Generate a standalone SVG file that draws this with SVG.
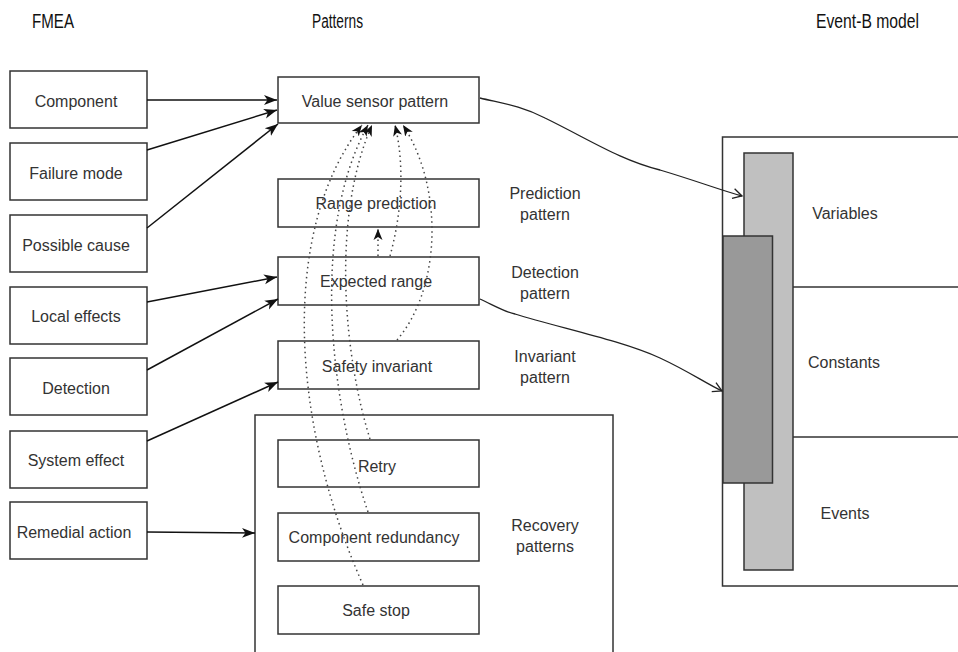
<svg xmlns="http://www.w3.org/2000/svg" width="958" height="652" viewBox="0 0 958 652">
  <defs>
    <style>
      .box { fill: #ffffff; stroke: #333333; stroke-width: 1.5; }
      .frame { fill: none; stroke: #333333; stroke-width: 1.5; }
      .lbl { font-family: "Liberation Sans", Arial, sans-serif; font-size: 16px; fill: #333333; text-anchor: middle; }
      .hdr { font-family: "Liberation Sans", Arial, sans-serif; font-size: 20px; fill: #111111; }
      .solid { fill: none; stroke: #111111; stroke-width: 1.5; marker-end: url(#arrowSolid); }
      .curve { fill: none; stroke: #222222; stroke-width: 1.3; marker-end: url(#arrowOpen); }
      .dot { fill: none; stroke: #444444; stroke-width: 1.5; stroke-dasharray: 1.5 3.5; marker-end: url(#arrowSmall); }
    </style>
    <marker id="arrowSolid" markerUnits="userSpaceOnUse" markerWidth="14" markerHeight="12" refX="13" refY="6" orient="auto">
      <path d="M0,1 L13,6 L0,11 L3.5,6 z" fill="#111111"/>
    </marker>
    <marker id="arrowSmall" markerUnits="userSpaceOnUse" markerWidth="12" markerHeight="10" refX="11" refY="5" orient="auto">
      <path d="M0,0.5 L11,5 L0,9.5 L3,5 z" fill="#111111"/>
    </marker>
    <marker id="arrowOpen" markerUnits="userSpaceOnUse" markerWidth="12" markerHeight="12" refX="10" refY="6" orient="auto">
      <path d="M1,1 L10,6 L1,11" fill="none" stroke="#222222" stroke-width="1.3"/>
    </marker>
  </defs>

  <rect width="958" height="652" fill="#ffffff"/>

  <!-- column headings -->
  <g id="headings">
    <text class="hdr" x="32" y="28" textLength="42" lengthAdjust="spacingAndGlyphs">FMEA</text>
    <text class="hdr" x="312" y="28" textLength="51" lengthAdjust="spacingAndGlyphs">Patterns</text>
    <text class="hdr" x="816" y="28" textLength="103" lengthAdjust="spacingAndGlyphs">Event-B model</text>
  </g>

  <!-- FMEA column -->
  <g id="fmea-component"><rect class="box" x="10" y="71" width="137" height="57"/><text class="lbl" x="76" y="107">Component</text></g>
  <g id="fmea-failure-mode"><rect class="box" x="10" y="143" width="137" height="57"/><text class="lbl" x="76" y="179">Failure mode</text></g>
  <g id="fmea-possible-cause"><rect class="box" x="10" y="215" width="137" height="57"/><text class="lbl" x="76" y="251">Possible cause</text></g>
  <g id="fmea-local-effects"><rect class="box" x="10" y="287" width="137" height="57"/><text class="lbl" x="76" y="322">Local effects</text></g>
  <g id="fmea-detection"><rect class="box" x="10" y="358" width="137" height="57"/><text class="lbl" x="76" y="394">Detection</text></g>
  <g id="fmea-system-effect"><rect class="box" x="10" y="431" width="137" height="57"/><text class="lbl" x="76" y="466">System effect</text></g>
  <g id="fmea-remedial-action"><rect class="box" x="10" y="502" width="137" height="57"/><text class="lbl" x="74" y="538">Remedial action</text></g>

  <!-- Patterns column -->
  <g id="recovery-patterns">
    <rect class="box" x="255" y="415" width="358" height="260"/>
    <text class="lbl" x="545" y="531">Recovery</text>
    <text class="lbl" x="545" y="552">patterns</text>
  </g>
  <g id="value-sensor-pattern"><rect class="box" x="278" y="77" width="201" height="46"/><text class="lbl" x="375" y="107">Value sensor pattern</text></g>
  <g id="range-prediction">
    <rect class="box" x="278" y="179" width="201" height="48"/><text class="lbl" x="376" y="209">Range prediction</text>
    <text class="lbl" x="545" y="199">Prediction</text><text class="lbl" x="545" y="220">pattern</text>
  </g>
  <g id="expected-range">
    <rect class="box" x="278" y="257" width="201" height="48"/><text class="lbl" x="376" y="287">Expected range</text>
    <text class="lbl" x="545" y="278">Detection</text><text class="lbl" x="545" y="299">pattern</text>
  </g>
  <g id="safety-invariant">
    <rect class="box" x="278" y="341" width="201" height="48"/><text class="lbl" x="377" y="372">Safety invariant</text>
    <text class="lbl" x="545" y="362">Invariant</text><text class="lbl" x="545" y="383">pattern</text>
  </g>
  <g id="retry"><rect class="box" x="278" y="440" width="201" height="47"/><text class="lbl" x="377" y="472">Retry</text></g>
  <g id="component-redundancy"><rect class="box" x="278" y="513" width="201" height="48"/><text class="lbl" x="374" y="543">Component redundancy</text></g>
  <g id="safe-stop"><rect class="box" x="278" y="586" width="201" height="48"/><text class="lbl" x="376" y="616">Safe stop</text></g>

  <!-- Event-B model -->
  <g id="event-b-model">
    <rect class="box" x="722.5" y="137" width="250" height="449"/>
    <line class="frame" x1="793" y1="287" x2="960" y2="287"/>
    <line class="frame" x1="793" y1="437" x2="960" y2="437"/>
    <rect x="744" y="153" width="49" height="417" fill="#c0c0c0" stroke="#333333" stroke-width="1.5"/>
    <rect x="723" y="236" width="49.5" height="247" fill="#999999" stroke="#333333" stroke-width="1.5"/>
    <text class="lbl" x="845" y="219">Variables</text>
    <text class="lbl" x="844" y="368">Constants</text>
    <text class="lbl" x="845" y="519">Events</text>
  </g>

  <!-- connectors -->
  <g id="connectors">
    <line class="solid" x1="147" y1="100" x2="277" y2="100"/>
    <line class="solid" x1="147" y1="150" x2="277" y2="110"/>
    <line class="solid" x1="147" y1="228" x2="278" y2="124"/>
    <line class="solid" x1="147" y1="302" x2="277" y2="277"/>
    <line class="solid" x1="147" y1="370" x2="278" y2="299"/>
    <line class="solid" x1="147" y1="441" x2="278" y2="382"/>
    <line class="solid" x1="147" y1="532" x2="255" y2="533"/>

    <path class="curve" d="M480,98 C500,103 520,105 545,118 C590,140 620,160 660,170 C700,182 720,190 742,196"/>
    <path class="curve" d="M480,299 C495,306 505,312 515,314 C560,328 620,340 660,358 C690,372 705,383 722,391"/>

    <path class="dot" d="M378,256 L378,229"/>
    <path class="dot" d="M390,256 C400,220 406,170 395,125"/>
    <path class="dot" d="M397,340 C440,290 445,190 403,125"/>
    <path class="dot" d="M370,439 C345,360 330,220 372,125"/>
    <path class="dot" d="M368,512 C330,400 310,230 368,125"/>
    <path class="dot" d="M363,585 C290,420 280,230 362,125"/>
  </g>
</svg>
